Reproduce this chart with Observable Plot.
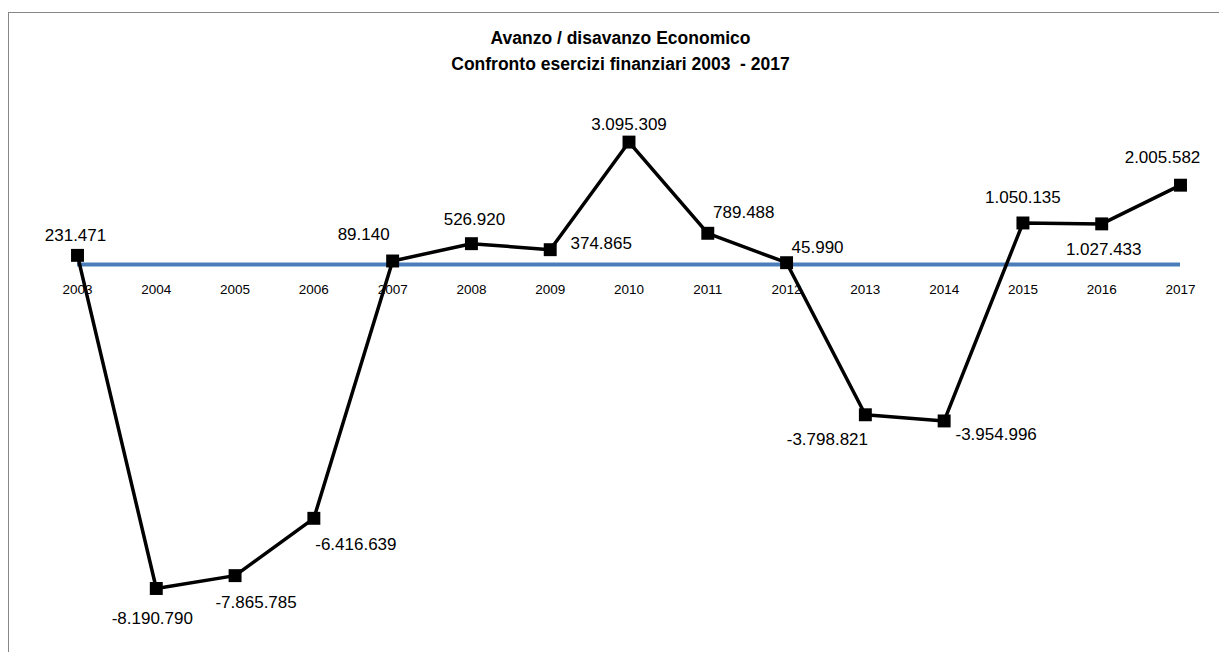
<!DOCTYPE html>
<html>
<head>
<meta charset="utf-8">
<script src="https://cdn.jsdelivr.net/npm/d3@7"></script>
<script src="https://cdn.jsdelivr.net/npm/@observablehq/plot@0.6"></script>
<style>
  html, body { margin: 0; padding: 0; background: #fff; }
  #wrap { position: relative; width: 1219px; height: 652px; overflow: hidden; }
  #frame { position: absolute; left: 8px; top: 12px; width: 1300px; height: 700px;
           border-left: 1px solid #878787; border-top: 1px solid #878787; pointer-events: none; }
  #title { position: relative; height: 90px; box-sizing: border-box; padding-top: 25px;
           text-align: center; font-family: "Liberation Sans", Arial, sans-serif; font-weight: bold;
           font-size: 17.5px; line-height: 26px; color: #000; padding-left: 22px; }
  #chart svg { display: block; }
</style>
</head>
<body>
<div id="wrap">
  <div id="frame"></div>
  <div id="title">Avanzo / disavanzo Economico<br>Confronto esercizi finanziari 2003&nbsp; - 2017</div>
  <div id="chart"></div>
</div>
<script>
// ---- data ----
const years = ["2003","2004","2005","2006","2007","2008","2009","2010","2011","2012","2013","2014","2015","2016","2017"];
const values = [231471, -8190790, -7865785, -6416639, 89140, 526920, 374865, 3095309, 789488, 45990, -3798821, -3954996, 1050135, 1027433, 2005582];

// ---- label placement (styling) ----
const labelDx = [-2, -4, 21, 42, -29, 3, 51, 0, 36, 31, -38, 52, 0, 2, -18];
const labelDy = [-20, 30, 27, 26, -26, -24, -6, -18, -21, -15, 25, 14, -25, 26, -28];

const data = years.map((year, i) => ({year, value: values[i], dx: labelDx[i], dy: labelDy[i]}));

const itLocale = d3.formatLocale({decimal: ",", thousands: ".", grouping: [3], currency: ["", " €"], minus: "-"});
const fmt = itLocale.format(",d");

const font = "'Liberation Sans', Arial, sans-serif";

const labelMarks = data.map(d => Plot.text([d], {
  x: "year", y: "value", text: x => fmt(x.value),
  dx: d.dx, dy: d.dy, fontSize: 17, fill: "#000"
}));

const chart = Plot.plot({
  width: 1219,
  height: 562,
  marginLeft: 77,
  marginRight: 39,
  marginTop: 15.8,
  marginBottom: 32,
  style: {fontFamily: font, background: "transparent", overflow: "visible"},
  x: {type: "point", domain: years, padding: 0, round: false, axis: null},
  y: {domain: [-9000000, 4000000], axis: null},
  marks: [
    Plot.ruleY([0], {stroke: "#4a7ebb", strokeWidth: 4}),
    Plot.text(years, {x: d => d, y: () => 0, text: d => d, dy: 25, fontSize: 13.5, fill: "#000"}),
    Plot.line(data, {x: "year", y: "value", stroke: "#000", strokeWidth: 3.5, strokeLinejoin: "miter"}),
    Plot.dot(data, {x: "year", y: "value", symbol: "square", r: 7.3, fill: "#000", stroke: "none"}),
    ...labelMarks
  ]
});
document.getElementById("chart").appendChild(chart);
</script>
</body>
</html>
